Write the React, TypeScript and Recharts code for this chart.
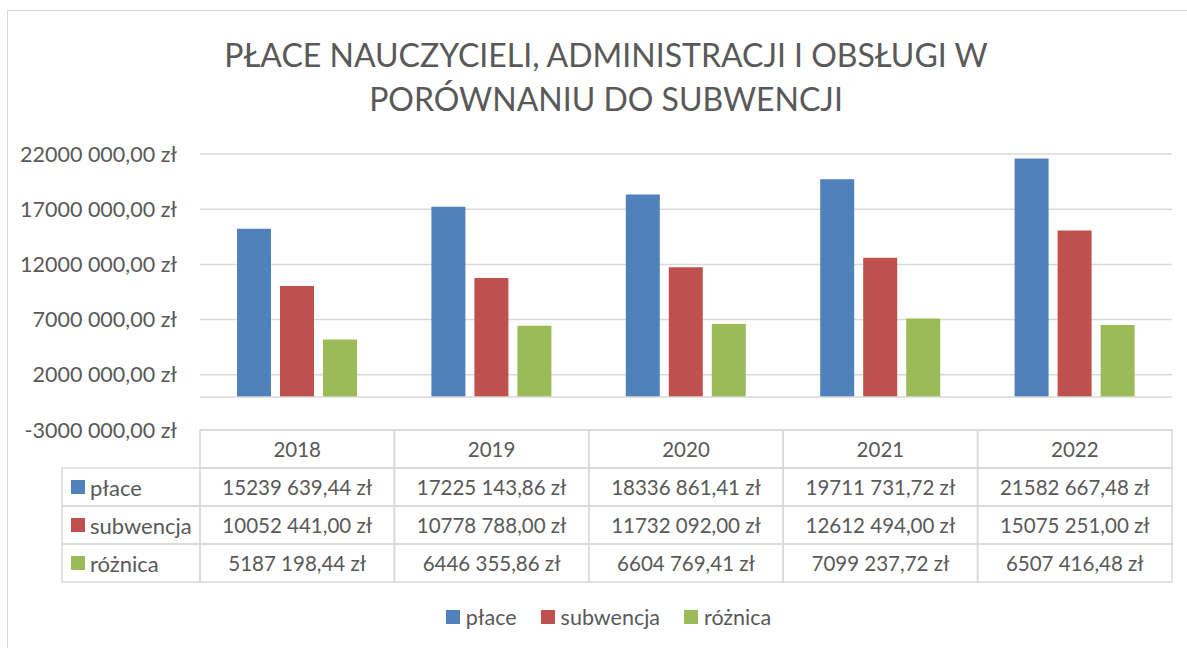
import React from "react";
import {
  BarChart,
  Bar,
  XAxis,
  YAxis,
  CartesianGrid,
  ReferenceLine,
  Legend,
} from "recharts";

// dane z wykresu
const years = ["2018", "2019", "2020", "2021", "2022"];
const place = [15239639.44, 17225143.86, 18336861.41, 19711731.72, 21582667.48];
const subwencja = [10052441.0, 10778788.0, 11732092.0, 12612494.0, 15075251.0];
const roznica = [5187198.44, 6446355.86, 6604769.41, 7099237.72, 6507416.48];
const yTicks = [-3000000, 2000000, 7000000, 12000000, 17000000, 22000000];

const seriesKeys = ["place", "subwencja", "roznica"];
const seriesNames = ["płace", "subwencja", "różnica"];
const seriesColors = ["#4F81BD", "#C0504D", "#9BBB59"];
const seriesValues = [place, subwencja, roznica];

const titleLines = [
  "PŁACE NAUCZYCIELI, ADMINISTRACJI I OBSŁUGI W",
  "PORÓWNANIU DO SUBWENCJI",
];

const data = years.map((year, i) => ({
  year,
  place: place[i],
  subwencja: subwencja[i],
  roznica: roznica[i],
}));

const FONT = "Lato, 'Open Sans', sans-serif";
const TEXT = "#595959";
const LINE = "#d9d9d9";

// format jak w Excelu: "15239 639,44 zł"
const fmt = (v: number) => {
  const neg = v < 0;
  const [int, dec] = Math.abs(v).toFixed(2).split(".");
  const head = int.slice(0, -3);
  const tail = int.slice(-3);
  return `${neg ? "-" : ""}${head ? head + " " : ""}${tail},${dec} zł`;
};

// tabela danych pod osią
const COL_W = (1172 - 200) / 5;
const ROW_H = 38;
const LABEL_W = 138;

function TableColumn(props: any) {
  const { x, y, payload } = props;
  const i = payload.index;
  const left = x - COL_W / 2;
  const top = y;
  return (
    <g>
      <rect x={left} y={top} width={COL_W} height={ROW_H} fill="none" stroke={LINE} strokeWidth={1.5} />
      <text x={x} y={top + ROW_H / 2} textAnchor="middle" dominantBaseline="central" fill={TEXT} fontSize={20.5} fontFamily={FONT}>
        {payload.value}
      </text>
      {seriesValues.map((vals, r) => (
        <g key={r}>
          <rect x={left} y={top + ROW_H * (r + 1)} width={COL_W} height={ROW_H} fill="none" stroke={LINE} strokeWidth={1.5} />
          <text x={x} y={top + ROW_H * (r + 1.5)} textAnchor="middle" dominantBaseline="central" fill={TEXT} fontSize={20.5} fontFamily={FONT}>
            {fmt(vals[i])}
          </text>
        </g>
      ))}
      {i === 0 &&
        seriesNames.map((name, r) => (
          <g key={name}>
            <rect x={left - LABEL_W} y={top + ROW_H * (r + 1)} width={LABEL_W} height={ROW_H} fill="none" stroke={LINE} strokeWidth={1.5} />
            <rect x={left - LABEL_W + 9} y={top + ROW_H * (r + 1.5) - 7} width={14} height={14} fill={seriesColors[r]} />
            <text x={left - LABEL_W + 28} y={top + ROW_H * (r + 1.5)} dominantBaseline="central" fill={TEXT} fontSize={22} fontFamily={FONT}>
              {name}
            </text>
          </g>
        ))}
    </g>
  );
}

function LegendContent() {
  return (
    <div style={{ display: "flex", justifyContent: "center", fontFamily: FONT, fontSize: 21.5, color: TEXT }}>
      {seriesNames.map((name, r) => (
        <div key={name} style={{ display: "flex", alignItems: "center", marginRight: r < 2 ? 24 : 0 }}>
          <span style={{ width: 14, height: 14, background: seriesColors[r], display: "inline-block", marginRight: 6 }} />
          <span>{name}</span>
        </div>
      ))}
    </div>
  );
}

export default function App() {
  return (
    <div style={{ position: "absolute", left: 0, top: 0, width: 1187, height: 648, background: "#fff", overflow: "hidden" }}>
      {/* ramka wykresu */}
      <div style={{ position: "absolute", left: 7, top: 10, width: 1200, height: 700, border: `1px solid ${LINE}` }} />

      <div
        style={{
          position: "absolute",
          left: 0,
          top: 33,
          width: 1212,
          textAlign: "center",
          fontFamily: FONT,
          fontSize: 32,
          lineHeight: "44px",
          color: TEXT,
        }}
      >
        {titleLines.map((l) => (
          <div key={l}>{l}</div>
        ))}
      </div>

      <div style={{ position: "absolute", left: 0, top: 0 }}>
        <BarChart
          width={1187}
          height={648}
          data={data}
          margin={{ top: 154, right: 15, left: 0, bottom: 67 }}
          barSize={34}
          barGap={9}
        >
          <CartesianGrid horizontal vertical={false} stroke={LINE} strokeWidth={1.5} />
          <YAxis
            domain={[-3000000, 22000000]}
            ticks={yTicks}
            interval={0}
            tickFormatter={fmt}
            axisLine={false}
            tickLine={false}
            tickSize={0}
            tickMargin={23}
            width={200}
            tick={{ fill: TEXT, fontSize: 21.5, fontFamily: FONT }}
          />
          <XAxis
            dataKey="year"
            interval={0}
            height={151}
            axisLine={false}
            tickLine={false}
            tickSize={0}
            tickMargin={0}
            tick={<TableColumn />}
          />
          <ReferenceLine y={0} stroke={LINE} strokeWidth={1.5} />
          {seriesKeys.map((k, r) => (
            <Bar key={k} dataKey={k} name={seriesNames[r]} fill={seriesColors[r]} isAnimationActive={false} />
          ))}
          <Legend
            verticalAlign="middle"
            align="center"
            layout="horizontal"
            wrapperStyle={{ top: 604, left: 15, width: 1187 }}
            content={<LegendContent />}
          />
        </BarChart>
      </div>
    </div>
  );
}
